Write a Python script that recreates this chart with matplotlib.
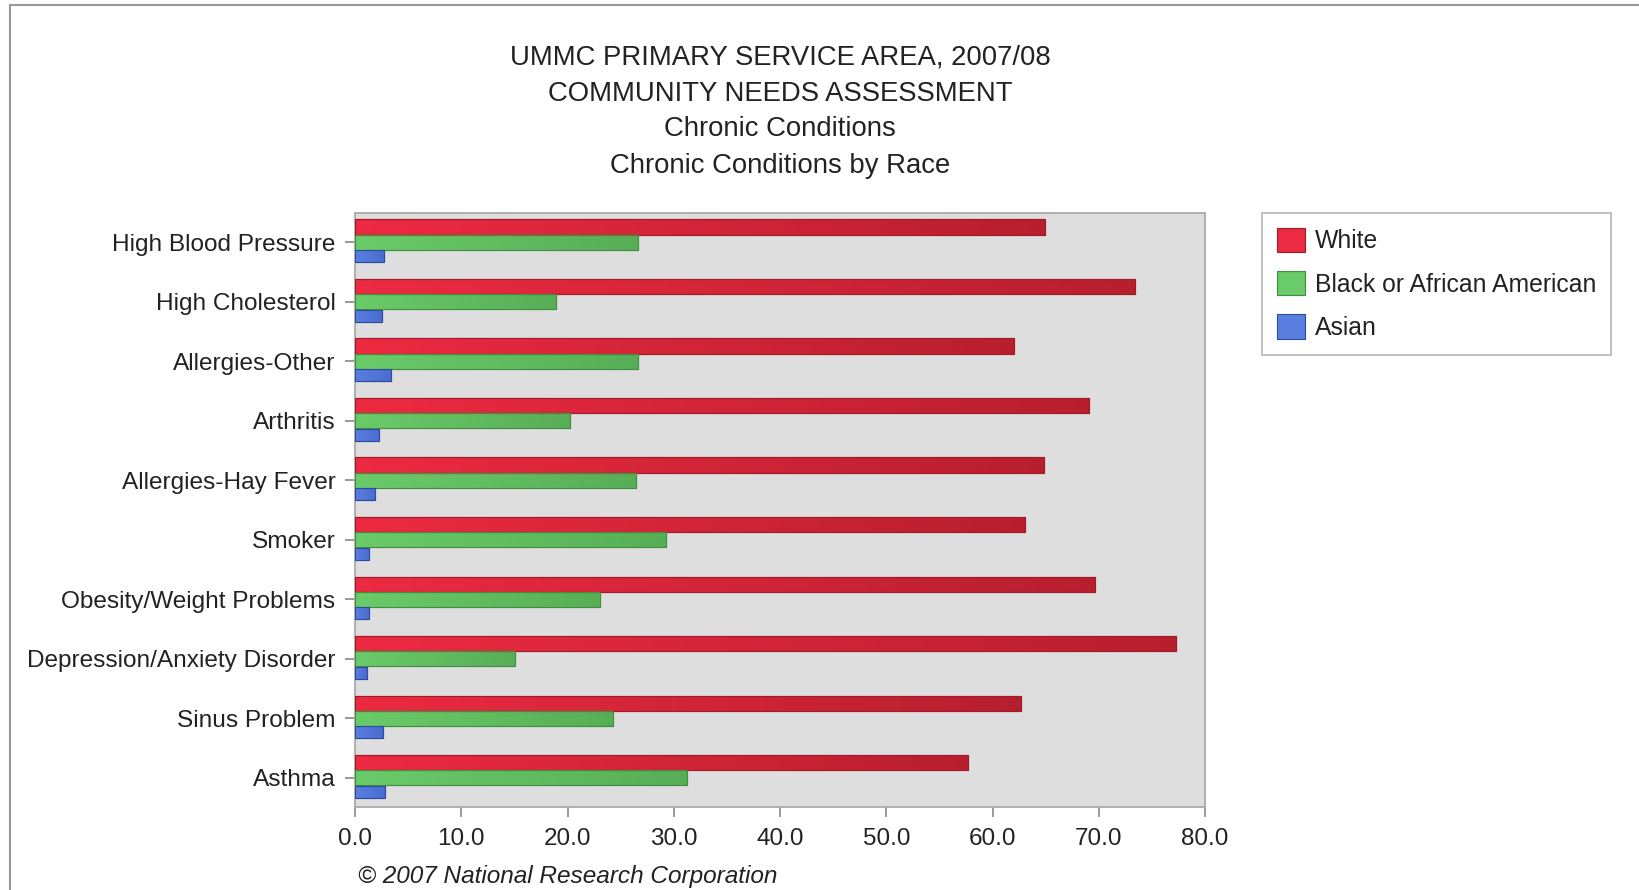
import numpy as np
import matplotlib
matplotlib.use("Agg")
import matplotlib.pyplot as plt
from matplotlib.lines import Line2D
from matplotlib.patches import Patch
from matplotlib.colors import LinearSegmentedColormap

plt.rcParams['font.family'] = ['Liberation Sans', 'DejaVu Sans']

categories = ["High Blood Pressure", "High Cholesterol", "Allergies-Other", "Arthritis",
              "Allergies-Hay Fever", "Smoker", "Obesity/Weight Problems",
              "Depression/Anxiety Disorder", "Sinus Problem", "Asthma"]
white = [64.9, 73.4, 62.0, 69.1, 64.8, 63.1, 69.6, 77.3, 62.7, 57.7]
black = [26.6, 18.9, 26.6, 20.2, 26.4, 29.3, 23.1, 15.1, 24.3, 31.2]
asian = [2.75, 2.5, 3.4, 2.3, 1.9, 1.3, 1.3, 1.1, 2.6, 2.8]
series_names = ["White", "Black or African American", "Asian"]
xticks = [0, 10, 20, 30, 40, 50, 60, 70, 80]
titles = ["UMMC PRIMARY SERVICE AREA, 2007/08", "COMMUNITY NEEDS ASSESSMENT",
          "Chronic Conditions", "Chronic Conditions by Race"]
footer = "\u00a9 2007 National Research Corporation"

W, H = 1639, 890
fig = plt.figure(figsize=(W/100, H/100), dpi=100)
ax = fig.add_axes([355/W, 1-807/H, (1205-355)/W, (807-213)/H])
ax.set_facecolor('#dedede')

series = [white, black, asian]
offsets = [-0.255, 0.0, 0.235]
heights = [0.255, 0.25, 0.2]
grad = [("#ec2a42", "#b81f2e", "#a01a28"),
        ("#6acb6a", "#58ae56", "#3f8f3f"),
        ("#5a7fe0", "#4a6cd0", "#2c4aa0")]
edge = ["#a01a28", "#3f8f3f", "#2c4aa0"]

y = np.arange(len(categories))
for s, off, h, (c1, c2, ec) in zip(series, offsets, heights, grad):
    cmap = LinearSegmentedColormap.from_list("g", [c1, c2])
    bars = ax.barh(y + off, s, height=h, color=c1, edgecolor=ec, linewidth=0.8, zorder=2)
    for b, v in zip(bars, s):
        yc = b.get_y()
        im = ax.imshow(np.linspace(0, 1, 256).reshape(1, -1), cmap=cmap, aspect='auto',
                       extent=(0, v, yc + h, yc), zorder=2.5, interpolation='bilinear')
        im.set_clip_path(b)
        ax.add_patch(plt.Rectangle((0, yc), v, h, fill=False, edgecolor=ec,
                                   linewidth=0.8, zorder=3))

ax.set_xlim(0, 80)
ax.set_ylim(len(categories) - 1 + 0.49, -0.49)
ax.set_xticks(xticks)
ax.set_xticklabels([f"{t:.1f}" for t in xticks], fontsize=17.5, color='#222222')
ax.set_yticks(y)
ax.set_yticklabels(categories, fontsize=17.6, color='#222222')
ax.tick_params(axis='both', colors='#888888', length=7, width=1.2, labelcolor='#222222')
ax.tick_params(axis='x', pad=8)
ax.tick_params(axis='y', pad=7)
for sp in ax.spines.values():
    sp.set_color('#aaaaaa')
    sp.set_linewidth(1.3)

ys = [58, 94, 129, 166]
for t, yy in zip(titles, ys):
    fig.text(780/W, 1 - yy/H, t, ha='center', va='center', fontsize=19.8, color='#222222')

fig.text(358/W, 1 - 876/H, footer, ha='left', va='center', fontsize=17.6,
         style='italic', color='#222222')

handles = [Patch(facecolor=grad[i][0], edgecolor=edge[i], linewidth=0.8) for i in range(3)]
leg = fig.legend(handles, series_names, loc='upper left', bbox_to_anchor=(1262/W, 1-213/H),
                 fontsize=17.8, frameon=True, fancybox=False, borderaxespad=0,
                 handlelength=1.13, handleheight=1.13, handletextpad=0.4,
                 labelspacing=0.72, borderpad=0.6)
leg.get_frame().set_edgecolor('#aaaaaa')
leg.get_frame().set_linewidth(1.3)
for t in leg.get_texts():
    t.set_color('#222222')

fig.add_artist(Line2D([10/W, 1], [1-5/H, 1-5/H], color='#999999', linewidth=1.5))
fig.add_artist(Line2D([10/W, 10/W], [0, 1-5/H], color='#999999', linewidth=1.5))

fig.savefig("out.png", dpi=100)
